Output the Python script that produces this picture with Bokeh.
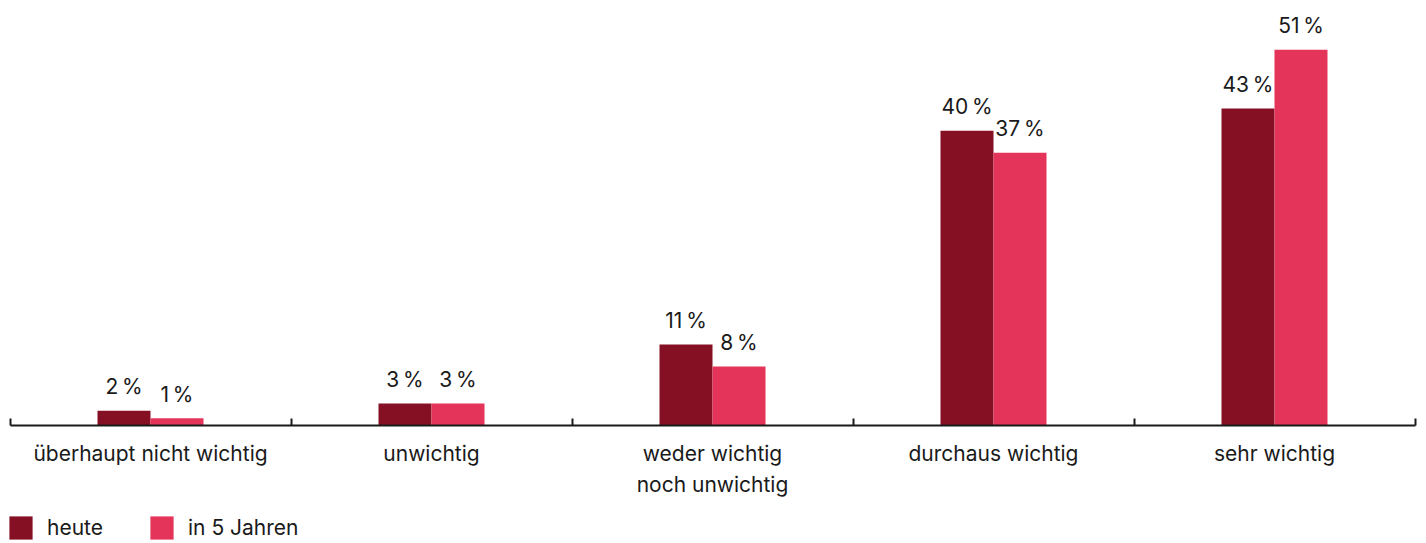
from bokeh.plotting import figure
from bokeh.models import (ColumnDataSource, Range1d, LinearAxis, FixedTicker,
                          Legend, LegendItem)
from bokeh.core.properties import value
from bokeh.embed import file_html
from bokeh.resources import INLINE
import numpy as np

categories = ["überhaupt nicht wichtig", "unwichtig", "weder wichtig\nnoch unwichtig",
              "durchaus wichtig", "sehr wichtig"]
heute = [2, 3, 11, 40, 43]
in_5_jahren = [1, 3, 8, 37, 51]
series_names = ["heute", "in 5 Jahren"]
colors = ["#850F23", "#E5345A"]

FONT = "Inter"
BAR_W = 0.1886

idx = np.arange(len(categories)) + 0.5
src_a = ColumnDataSource(dict(x=idx - BAR_W / 2, top=heute,
                              label=[f"{v}\u2009%" for v in heute]))
src_b = ColumnDataSource(dict(x=idx + BAR_W / 2, top=in_5_jahren,
                              label=[f"{v}\u2009%" for v in in_5_jahren]))

px_per_unit_x = 281.0
px_per_unit_y = 7.37
W, H = 1426, 543
X0 = 9.5        # pixel position of x = 0
AXIS_Y = 425    # pixel position (from top) of y = 0
x_start = -X0 / px_per_unit_x
x_end = len(categories) + (W - X0 - len(categories) * px_per_unit_x) / px_per_unit_x
y_start = -(H - AXIS_Y) / px_per_unit_y
y_end = AXIS_Y / px_per_unit_y

p = figure(width=W, height=H, x_range=Range1d(x_start, x_end), y_range=Range1d(y_start, y_end),
           output_backend="svg", toolbar_location=None, x_axis_type=None, y_axis_type=None,
           min_border=0, outline_line_color=None, background_fill_color="white",
           border_fill_color="white")

r1 = p.vbar(x="x", top="top", bottom=0, width=BAR_W, source=src_a,
            fill_color=colors[0], line_color=None)
r2 = p.vbar(x="x", top="top", bottom=0, width=BAR_W, source=src_b,
            fill_color=colors[1], line_color=None)

for s in (src_a, src_b):
    p.text(x="x", y="top", text="label", source=s, y_offset=-24,
           text_align="center", text_baseline="alphabetic",
           text_font=value(FONT), text_font_size="21px", text_color="#1a1a1a")

ticks = list(idx)
axis = LinearAxis(ticker=FixedTicker(ticks=ticks, minor_ticks=list(range(len(categories) + 1))),
                  fixed_location=0, bounds=(0, len(categories)))
axis.major_label_overrides = {float(t): c for t, c in zip(ticks, categories)}
axis.major_tick_in = 0
axis.major_tick_out = 0
axis.minor_tick_in = 7
axis.minor_tick_out = 0
axis.minor_tick_line_color = "#1a1a1a"
axis.minor_tick_line_width = 2
axis.axis_line_color = "#1a1a1a"
axis.axis_line_width = 2
axis.major_label_standoff = 15
axis.major_label_text_font = FONT
axis.major_label_text_font_size = "21px"
axis.major_label_text_color = "#1a1a1a"
axis.major_label_text_line_height = 1.24
p.add_layout(axis, "below")

legend = Legend(items=[LegendItem(label=series_names[0], renderers=[r1]),
                       LegendItem(label=series_names[1], renderers=[r2])],
                orientation="horizontal", location=(6, 1),
                glyph_width=29, glyph_height=29, label_standoff=12,
                label_width=80, label_height=29, spacing=20,
                padding=0, margin=0, border_line_color=None, background_fill_alpha=0,
                label_text_font=FONT, label_text_font_size="21px", label_text_color="#1a1a1a")
p.add_layout(legend, "center")

open("out.html", "w").write(file_html(p, INLINE))
